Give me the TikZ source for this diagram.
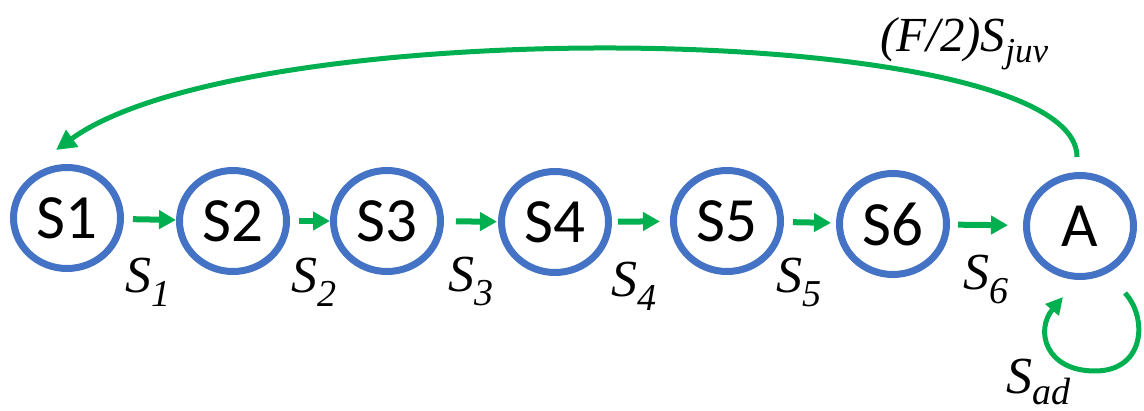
\documentclass[tikz,border=0pt]{standalone}
\usepackage{fontspec}
\setmainfont{Liberation Serif}
\newfontfamily\statefont{Carlito}
\usetikzlibrary{shapes.geometric,arrows.meta,calc}
\definecolor{stateblue}{HTML}{4472C4}
\definecolor{flowgreen}{HTML}{00B050}
% survival-rate label: italic symbol with a lowered subscript
\newcommand{\ratelabel}[2]{\fontsize{52}{52}\selectfont\itshape #1\raisebox{-14pt}{\fontsize{38}{38}\selectfont #2}}
\begin{document}
\begin{tikzpicture}[x=1pt,y=-1pt,
  state/.style={ellipse, draw=stateblue, line width=7pt, outer sep=3.5pt,
    minimum width=107pt, minimum height=101pt, inner sep=0pt,
    font=\statefont\fontsize{63}{63}\selectfont},
  flow/.style={draw=flowgreen, line width=6pt, -{Triangle[length=17pt,width=18pt]}},
  bigflow/.style={draw=flowgreen, line width=5pt, -{Triangle[length=20pt,width=20pt]}},
  loopflow/.style={draw=flowgreen, line width=5pt, -{Triangle[length=17pt,width=17pt]}},
  lbl/.style={inner sep=0pt, anchor=base west}]
\useasboundingbox (0,0) rectangle (1144,411);

% life stages
\node[state] (S1) at (67,218) {S1};
\node[state] (S2) at (233,221) {S2};
\node[state] (S3) at (387,221) {S3};
\node[state] (S4) at (555,222) {S4};
\node[state] (S5) at (727,221) {S5};
\node[state] (S6) at (893,224) {S6};
\node[state] (A) at (1080,226) {A};

% transitions between stages
\draw[flow, shorten <=9pt] (S1) -- (S2);
\draw[flow, shorten <=9pt] (S2) -- (S3);
\draw[flow, shorten <=12pt, shorten >=1pt] (S3) -- (S4);
\draw[flow, shorten <=6pt, shorten >=10pt] (S4) -- (S5);
\draw[flow, shorten <=9pt, shorten >=5pt] (S5) -- (S6);
\draw[flow, shorten <=8pt, shorten >=15pt] (S6) -- (A);

% reproduction back to the first stage
\draw[bigflow] ($(A.north)+(-3,-15)$) .. controls (1077,20) and (250,10) .. ($(S1.north)+(-11,-14)$);

% adult survival
\draw[loopflow] ($(A.south)+(45,13)$) .. controls (1148,318) and (1145,371) .. (1095,371)
  .. controls (1045,371) and (1035,330) .. ($(A.south)+(-17,17)$);

% rate labels
\node[lbl] (l1) at (125,293) {\ratelabel{S}{1}};
\node[lbl] (l2) at (291,293) {\ratelabel{S}{2}};
\node[lbl] (l3) at (448,292) {\ratelabel{S}{3}};
\node[lbl] (l4) at (611,297) {\ratelabel{S}{4}};
\node[lbl] (l5) at (776,293) {\ratelabel{S}{5}};
\node[lbl] (l6) at (963,290) {\ratelabel{S}{6}};
\node[lbl] (lad) at (1006,394) {\fontsize{52}{52}\selectfont\itshape S\raisebox{-11pt}{\fontsize{38}{38}\selectfont ad}};
\node[lbl] (ljuv) at (880,52) {\fontsize{49}{49}\selectfont\itshape (F/2)S\raisebox{-11pt}{\fontsize{35}{35}\selectfont juv}};
\end{tikzpicture}
\end{document}
